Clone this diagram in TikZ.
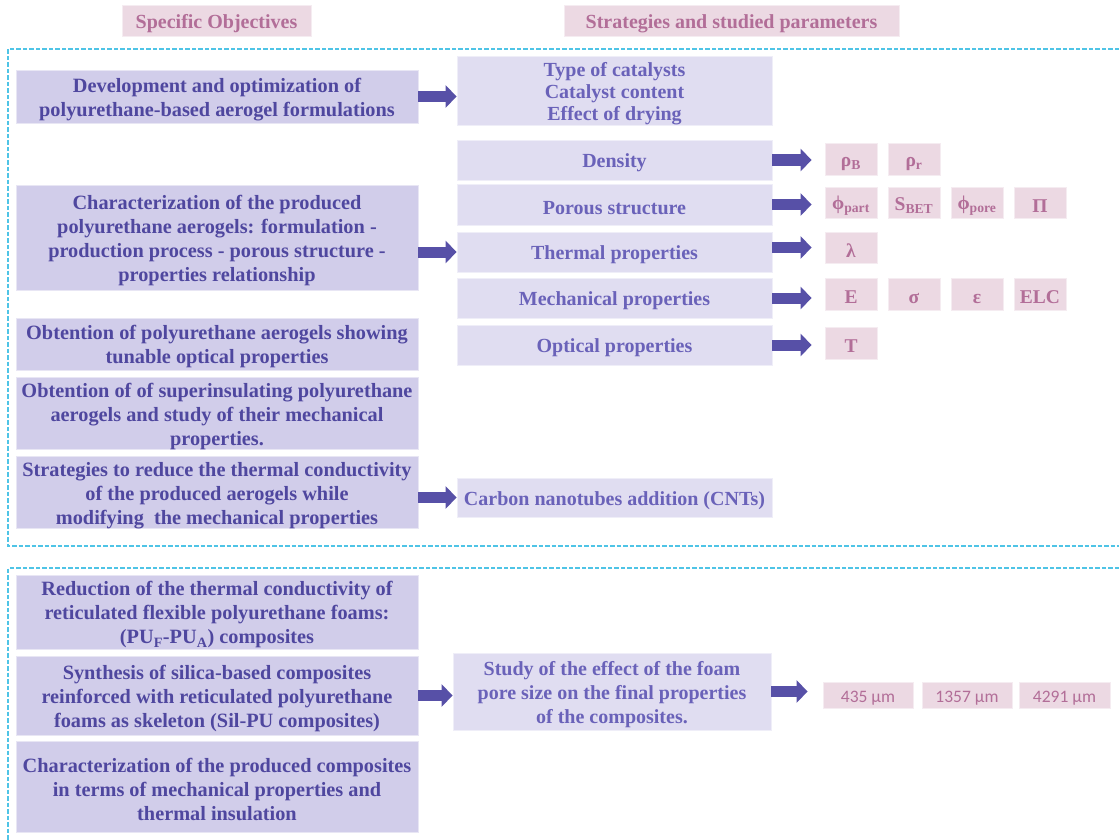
\documentclass[tikz,border=0pt]{standalone}
\usepackage{fontspec}
\setmainfont{Liberation Serif}
\newfontfamily\calfont{Carlito}
\usetikzlibrary{arrows.meta}

\definecolor{objfill}{HTML}{D1CDEA}
\definecolor{objtext}{HTML}{4F479F}
\definecolor{stratfill}{HTML}{E0DDF1}
\definecolor{strattext}{HTML}{6A62B9}
\definecolor{parfill}{HTML}{ECD9E3}
\definecolor{partext}{HTML}{B26E98}
\definecolor{arrowcol}{HTML}{5750A7}
\definecolor{framecol}{HTML}{4FC4E6}

% a tall strut on the first line sets the text slightly lower in its box
\newcommand\firstline{\rule{0pt}{1em}}

\tikzset{
  x=1pt, y=-1pt,
  box/.style={inner sep=0pt, align=center, line width=0.8pt},
  oneline/.style={execute at begin node={\firstline}},
  header/.style={box, oneline, fill=parfill, draw=parfill!50!white, text=partext,
    font=\bfseries\fontsize{20}{24}\selectfont},
  objective/.style={box, fill=objfill, draw=objfill!50!white, text=objtext,
    minimum width=402pt, font=\bfseries\fontsize{20.3}{24}\selectfont},
  strategy/.style={box, fill=stratfill, draw=stratfill!50!white, text=strattext,
    font=\bfseries\fontsize{20}{22}\selectfont},
  param/.style={box, oneline, fill=parfill, draw=parfill!50!white, text=partext,
    minimum width=52pt, font=\bfseries\fontsize{19.5}{22}\selectfont},
  poresize/.style={box, oneline, fill=parfill, draw=parfill!50!white, text=partext,
    minimum height=26pt, font=\calfont\fontsize{17.5}{20}\selectfont},
  blockarrow/.style={draw=arrowcol, line width=11pt,
    -{Triangle[length=11pt, width=22pt]}},
  frame/.style={draw=framecol, line width=1.3pt, dash pattern=on 4.5pt off 2pt}
}

\begin{document}
\begin{tikzpicture}
\useasboundingbox (0,0) rectangle (1119,840);

% column headings
\node[header, minimum width=189pt, minimum height=31pt] (h1) at (216.5,20.5) {Specific Objectives};
\node[header, minimum width=335pt, minimum height=31pt] (h2) at (731.5,20.5) {Strategies and studied parameters};

% dashed groups
\draw[frame] (1119,49) -- (8,49) -- (8,546) -- (1119,546);
\draw[frame] (1119,568) -- (8,568) -- (8,840);

% specific objectives
\node[objective, minimum height=53pt] (o1) at (217,96.5)
  {\firstline Development and optimization of\\polyurethane-based aerogel formulations};
\node[objective, minimum height=105pt] (o2) at (217,237.5)
  {\firstline Characterization of the produced\\polyurethane aerogels: formulation -\\production process - porous structure -\\properties relationship};
\node[objective, minimum height=52pt] (o3) at (217,344)
  {\firstline Obtention of polyurethane aerogels showing\\tunable optical properties};
\node[objective, minimum height=69pt] (o4) at (217,413.5)
  {\firstline Obtention of of superinsulating polyurethane\\aerogels and study of their mechanical\\properties.};
\node[objective, minimum height=69pt] (o5) at (217,492.5)
  {\firstline Strategies to reduce the thermal conductivity\\of the produced aerogels while\\modifying~ the mechanical properties};
\node[objective, minimum height=74pt] (o6) at (217,612)
  {\firstline Reduction of the thermal conductivity of\\reticulated flexible polyurethane foams:\\(PU\textsubscript{F}-PU\textsubscript{A}) composites};
\node[objective, minimum height=79pt] (o7) at (217,695.5)
  {\firstline Synthesis of silica-based composites\\reinforced with reticulated polyurethane\\foams as skeleton (Sil-PU composites)};
\node[objective, minimum height=91pt] (o8) at (217,786.5)
  {\firstline Characterization of the produced composites\\in terms of mechanical properties and\\thermal insulation};

% strategies
\node[strategy, minimum width=315pt, minimum height=66pt] (s0) at (614.5,91)
  {\firstline Type of catalysts\\Catalyst content\\Effect of drying};
\node[strategy, oneline, minimum width=315pt, minimum height=40pt] (den) at (614.5,160) {Density};
\node[strategy, oneline, minimum width=315pt, minimum height=41pt] (por) at (614.5,204.5) {Porous structure};
\node[strategy, oneline, minimum width=315pt, minimum height=40pt] (the) at (614.5,252) {Thermal properties};
\node[strategy, oneline, minimum width=315pt, minimum height=40pt] (mec) at (614.5,298) {Mechanical properties};
\node[strategy, oneline, minimum width=315pt, minimum height=40pt] (opt) at (614.5,345) {Optical properties};
\node[strategy, oneline, minimum width=315pt, minimum height=39pt] (cnt) at (614.5,497.5) {Carbon nanotubes addition (CNTs)};
\node[strategy, minimum width=318pt, minimum height=77pt, font=\bfseries\fontsize{20}{24}\selectfont] (study) at (612,691.5)
  {\firstline Study of the effect of the foam\\pore size on the final properties\\of the composites.};

% studied parameters
\node[param, minimum height=32pt] (rhoB) at (851,159) {ρ\textsubscript{B}};
\node[param, minimum height=32pt] (rhor) at (914,159) {ρ\textsubscript{r}};
\node[param, minimum height=31pt] (phipart) at (851,202.5) {ϕ\textsubscript{part}};
\node[param, minimum height=31pt] (sbet) at (914,202.5) {S\textsubscript{BET}};
\node[param, minimum height=31pt] (phipore) at (977,202.5) {ϕ\textsubscript{pore}};
\node[param, minimum height=31pt] (pi) at (1040,202.5) {Π};
\node[param, minimum height=31pt] (lambda) at (851,247.5) {λ};
\node[param, minimum height=32pt] (young) at (851,294) {E};
\node[param, minimum height=32pt] (sigma) at (914,294) {σ};
\node[param, minimum height=32pt] (eps) at (977,294) {ε};
\node[param, minimum height=32pt] (elc) at (1040,294) {ELC};
\node[param, minimum height=32pt] (trans) at (851,343) {T};

\node[poresize, minimum width=90pt] (p1) at (868,695) {435 µm};
\node[poresize, minimum width=90pt] (p2) at (967,695) {1357 µm};
\node[poresize, minimum width=91pt] (p3) at (1064.5,695) {4291 µm};

% arrows
\draw[blockarrow] (o1.east) -- (o1.east -| s0.west);
\draw[blockarrow] (o2.east |- the.west) -- (the.west);
\draw[blockarrow] (o5.east |- cnt.west) -- (cnt.west);
\draw[blockarrow] (o7.east) -- (o7.east -| study.west);
\draw[blockarrow, shorten >=13pt] (den.east) -- (den.east -| rhoB.west);
\draw[blockarrow, shorten >=13pt] (por.east) -- (por.east -| phipart.west);
\draw[blockarrow, shorten >=13pt] (the.east |- lambda.west) -- (lambda.west);
\draw[blockarrow, shorten >=13pt] (mec.east) -- (mec.east -| young.west);
\draw[blockarrow, shorten >=13pt] (opt.east) -- (opt.east -| trans.west);
\draw[blockarrow, shorten >=15pt] (study.east) -- (study.east -| p1.west);
\end{tikzpicture}
\end{document}
